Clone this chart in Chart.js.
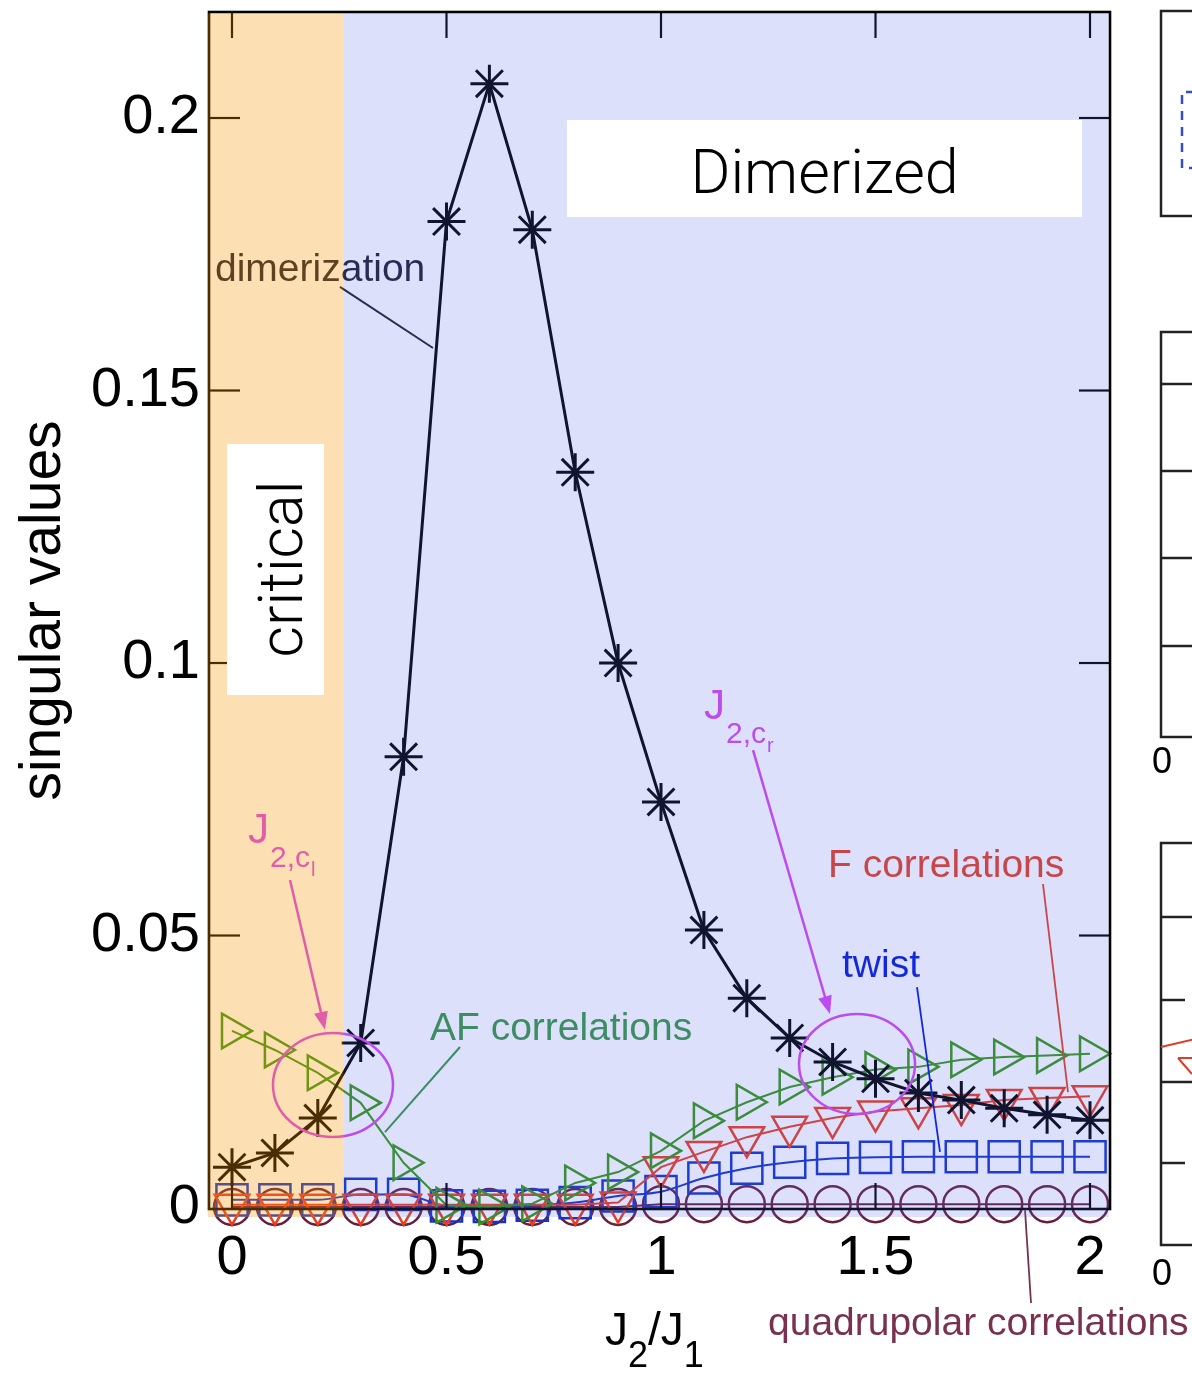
<!DOCTYPE html>
<html><head><meta charset="utf-8">
<script src="https://cdn.jsdelivr.net/npm/chart.js@4.4.0/dist/chart.umd.min.js"></script>
<style>html,body{margin:0;padding:0;background:#fff;}canvas{display:block;}</style>
</head><body>
<canvas id="c" width="1192" height="1373"></canvas>
<script>
// ---------- data ----------
const j2OverJ1 = [0,0.1,0.2,0.3,0.4,0.5,0.6,0.7,0.8,0.9,1.0,1.1,1.2,1.3,1.4,1.5,1.6,1.7,1.8,1.9,2.0];
const dimerization = [0.0075,0.0101,0.0165,0.0303,0.0828,0.181,0.2063,0.1795,0.135,0.100,0.0745,0.051,0.0385,0.0312,0.0268,0.0237,0.0211,0.0198,0.0183,0.0171,0.0161];
const afCorrelations = [0.0325,0.029,0.0248,0.0193,0.0083,0.0005,0.0002,0.0008,0.0046,0.0066,0.0105,0.016,0.0194,0.0222,0.024,0.0254,0.0259,0.0272,0.0277,0.028,0.0283];
const fCorrelations = [0.0006,0.0006,0.0006,0.0006,0.0006,0.0006,0.0006,0.0006,0.0006,0.001,0.0075,0.0103,0.013,0.0149,0.0165,0.0177,0.0183,0.0189,0.0198,0.0202,0.0205];
const twist = [0.0015,0.0015,0.0015,0.0025,0.0025,0.0004,0.0003,0.0005,0.001,0.0022,0.003,0.0055,0.0073,0.0084,0.0091,0.0093,0.0094,0.0094,0.0094,0.0094,0.0094];
const quadrupolar = [0.0002,0.0002,0.0002,0.0002,0.0002,0.0002,0.0002,0.0002,0.0002,0.0002,0.0007,0.0007,0.0007,0.0007,0.0007,0.0007,0.0007,0.0007,0.0007,0.0007,0.0007];
const xTickValues = [0,0.5,1,1.5,2];
const yTickValues = [0,0.05,0.1,0.15,0.2];
const criticalEnd = 0.26;   // boundary of the "critical" region

// ---------- styles ----------
const FONT = "'Liberation Sans', Arial, Helvetica, sans-serif";
const C = {
  black:'#000000', green:'rgb(55,150,20)', red:'rgb(235,60,30)', blue:'rgb(20,50,200)',
  purple:'rgb(105,30,60)', magenta:'rgb(215,70,240)', afText:'rgb(55,150,68)',
  fText:'rgb(230,62,35)', twistText:'rgb(5,25,217)', quadText:'rgb(120,50,80)', dimText:'rgb(30,30,45)'
};
const pts = arr => arr.map((v,i)=>({x:j2OverJ1[i], y:v}));

const annot = {
  id:'annot',
  afterDatasetsDraw(chart){
    const {ctx, chartArea:a, scales:{x, y}} = chart;
    const X = v => x.getPixelForValue(v), Y = v => y.getPixelForValue(v);
    const line = (x1,y1,x2,y2)=>{ctx.beginPath();ctx.moveTo(x1,y1);ctx.lineTo(x2,y2);ctx.stroke();};
    const arrow = (x1,y1,x2,y2,col)=>{
      ctx.strokeStyle=col; ctx.fillStyle=col; ctx.lineWidth=2.5;
      const ang=Math.atan2(y2-y1,x2-x1), L=18, W=7;
      line(x1,y1,x2-Math.cos(ang)*L*0.8,y2-Math.sin(ang)*L*0.8);
      ctx.beginPath(); ctx.moveTo(x2,y2);
      ctx.lineTo(x2-Math.cos(ang)*L+Math.sin(ang)*W, y2-Math.sin(ang)*L-Math.cos(ang)*W);
      ctx.lineTo(x2-Math.cos(ang)*L-Math.sin(ang)*W, y2-Math.sin(ang)*L+Math.cos(ang)*W);
      ctx.closePath(); ctx.fill();
    };
    const text = (s,px,py,size,col,align)=>{
      ctx.font = size+'px '+FONT; ctx.fillStyle=col; ctx.textAlign=align||'left'; ctx.textBaseline='alphabetic';
      ctx.fillText(s,px,py);
    };
    const jLabel = (xv,yv,sub,subsub,col)=>{
      const px=X(xv), py=Y(yv);
      ctx.font='42px '+FONT; const wJ=ctx.measureText('J').width;
      text('J',px,py,42,col);
      ctx.font='30px '+FONT; const wS=ctx.measureText(sub).width;
      text(sub,px+wJ+1,py+24,30,col);
      text(subsub,px+wJ+1+wS+1,py+33,20,col);
    };
    const ellipse = (xv,yv,rxv,ryv,col)=>{
      ctx.strokeStyle=col; ctx.lineWidth=2.5; ctx.beginPath();
      ctx.ellipse(X(xv),Y(yv),Math.abs(X(xv+rxv)-X(xv)),Math.abs(Y(yv+ryv)-Y(yv)),0,0,Math.PI*2); ctx.stroke();
    };
    ctx.save();
    // inward ticks
    ctx.strokeStyle='#000'; ctx.lineWidth=2.2;
    xTickValues.forEach(v=>{const p=X(v); line(p,a.top,p,a.top+26); line(p,a.bottom,p,a.bottom-26);});
    yTickValues.forEach(v=>{ if(v===0) return; const p=Y(v); line(a.left,p,a.left+31,p); line(a.right,p,a.right-31,p);});
    // frame
    ctx.lineWidth=2.6; ctx.strokeRect(a.left,a.top,a.right-a.left,a.bottom-a.top);

    // annotations inside the plot
    text('dimerization', X(-0.0396), Y(0.1701), 39, C.dimText);
    ctx.strokeStyle=C.dimText; ctx.lineWidth=2; line(X(0.2517),Y(0.1690),X(0.4685),Y(0.1578));

    jLabel(0.0373,0.0670,'2,c','l',C.magenta);
    arrow(X(0.1352),Y(0.0602),X(0.2168),Y(0.0327),C.magenta);
    ellipse(0.2354,0.02257,0.1399,0.00954,C.magenta);

    text('AF correlations', X(0.4615), Y(0.03083), 39, C.afText);
    ctx.strokeStyle=C.afText; ctx.lineWidth=2; line(X(0.5315),Y(0.02954),X(0.3566),Y(0.01394));

    jLabel(1.1002,0.0897,'2,c','r',C.magenta);
    arrow(X(1.2145),Y(0.0840),X(1.3939),Y(0.0356),C.magenta);
    ellipse(1.4569,0.02642,0.1352,0.00917,C.magenta);

    text('twist', X(1.4219), Y(0.04239), 39, C.twistText);
    ctx.strokeStyle=C.twistText; ctx.lineWidth=1.8; line(X(1.5967),Y(0.04055),X(1.6503),Y(0.01028));

    text('F correlations', X(1.3893), Y(0.06073), 39, C.fText);
    ctx.strokeStyle=C.fText; ctx.lineWidth=1.8; line(X(1.8904),Y(0.05945),X(1.9487),Y(0.02128));

    ctx.strokeStyle=C.quadText; ctx.lineWidth=1.8; line(X(1.8485),Y(-0.0004),X(1.8625),Y(-0.01743));

    // translucent region overlays
    const top=a.top+1.4, bot=a.bottom+8, xc=X(criticalEnd);
    ctx.fillStyle='rgba(248,148,8,0.3)'; ctx.fillRect(a.left-1.3, top, xc-(a.left-1.3), bot-top);
    ctx.fillStyle='rgba(80,100,230,0.2)'; ctx.fillRect(xc, top, (a.right-1.4)-xc, bot-top);

    // white label boxes
    ctx.fillStyle='#fff';
    let bx1=X(0.7809), bx2=X(1.9814), by1=Y(0.19963), by2=Y(0.18183);
    ctx.fillRect(bx1,by1,bx2-bx1,by2-by1);
    ctx.font='300 61px Roboto, '+FONT; ctx.fillStyle='#000'; ctx.textAlign='center'; ctx.textBaseline='alphabetic';
    ctx.fillText('Dimerized',(bx1+bx2)/2,Y(0.18624));
    bx1=X(-0.01166); bx2=X(0.21445); by1=Y(0.14018); by2=Y(0.09413);
    ctx.fillStyle='#fff'; ctx.fillRect(bx1,by1,bx2-bx1,by2-by1);
    ctx.save(); ctx.translate(X(0.1632),Y(0.11725)); ctx.rotate(-Math.PI/2);
    ctx.font='300 61px Roboto, '+FONT; ctx.fillStyle='#000'; ctx.textAlign='center'; ctx.fillText('critical',0,0);
    ctx.restore();

    // labels outside the plot
    text('quadrupolar correlations', X(1.2494), Y(-0.0233), 39, C.quadText);
    // x-axis title J2/J1
    {
      let px=X(0.8695), py=Y(-0.02514);
      ctx.font='46px '+FONT; const wJ=ctx.measureText('J').width, wSl=ctx.measureText('/').width;
      ctx.font='36px '+FONT; const w2=ctx.measureText('2').width;
      text('J',px,py,46,'#000'); px+=wJ;
      text('2',px,py+22,36,'#000'); px+=w2;
      text('/',px,py,46,'#000'); px+=wSl;
      text('J',px,py,46,'#000'); px+=wJ;
      text('1',px,py+22,36,'#000');
    }
    // slivers of neighbouring panels at the right edge
    ctx.strokeStyle='#222'; ctx.lineWidth=2.5;
    ctx.beginPath(); ctx.moveTo(1200,11); ctx.lineTo(1161,11); ctx.lineTo(1161,216); ctx.lineTo(1200,216); ctx.stroke();
    ctx.beginPath(); ctx.moveTo(1200,332); ctx.lineTo(1161,332); ctx.lineTo(1161,737); ctx.lineTo(1200,737); ctx.stroke();
    [384,471,558,646].forEach(p=>line(1161,p,1200,p));
    ctx.beginPath(); ctx.moveTo(1200,843); ctx.lineTo(1161,843); ctx.lineTo(1161,1245); ctx.lineTo(1200,1245); ctx.stroke();
    [917,1082].forEach(p=>line(1161,p,1200,p));
    [1000,1163].forEach(p=>line(1161,p,1185,p));
    ctx.strokeStyle='rgb(220,60,40)'; ctx.lineWidth=2; line(1161,1047,1200,1038);
    ctx.beginPath(); ctx.moveTo(1178,1058); ctx.lineTo(1200,1058); ctx.moveTo(1178,1058); ctx.lineTo(1192,1074); ctx.stroke();
    ctx.strokeStyle='rgb(50,80,190)'; ctx.lineWidth=2.5; ctx.setLineDash([9,7]);
    ctx.beginPath(); ctx.moveTo(1195,92); ctx.lineTo(1182,92); ctx.lineTo(1182,168); ctx.lineTo(1195,168); ctx.stroke();
    ctx.setLineDash([]);
    text('0',1162,773,36,'#000','center');
    text('0',1162,1285,36,'#000','center');
    ctx.restore();
  }
};

const ds = (label,data,col,style,r,rot,bw,lw,order,interp)=>({
  label, data:pts(data), borderColor:col, borderWidth:lw, pointStyle:style, pointRadius:r, pointRotation:rot,
  pointBorderColor:col, pointBorderWidth:bw, pointBackgroundColor:'rgba(0,0,0,0)', fill:false, tension:0,
  cubicInterpolationMode: interp || 'default', clip:false, order
});

new Chart(document.getElementById('c'), {
  type:'line',
  data:{ datasets:[
    ds('dimerization', dimerization, C.black, 'star', 19, 0, 3, 3, 0),
    ds('AF correlations', afCorrelations, C.green, 'triangle', 20, 90, 2.5, 2, 1),
    ds('F correlations', fCorrelations, C.red, 'triangle', 20, 180, 2.5, 2, 2),
    ds('twist', twist, C.blue, 'rect', 22, 0, 2.5, 2, 3, 'monotone'),
    ds('quadrupolar correlations', quadrupolar, C.purple, 'circle', 18, 0, 2.5, 2, 4)
  ]},
  options:{
    responsive:false, devicePixelRatio:1, animation:false,
    layout:{autoPadding:false, padding:{left:0, top:12, right:82, bottom:0}},
    plugins:{legend:{display:false}, tooltip:{enabled:false}},
    scales:{
      x:{ type:'linear', min:-0.0536, max:2.0466,
        afterBuildTicks: s=>{ s.ticks = xTickValues.map(v=>({value:v})); },
        afterFit: s=>{ s.height = 164; s.paddingLeft = 0; s.paddingRight = 0; },
        grid:{display:false, drawTicks:false}, border:{display:false},
        ticks:{ font:{family:FONT, size:56}, color:'#000', padding:16, maxRotation:0, autoSkip:false,
          callback: v=>String(v) } },
      y:{ type:'linear', min:-0.00018, max:0.21945,
        afterBuildTicks: s=>{ s.ticks = yTickValues.map(v=>({value:v})); },
        afterFit: s=>{ s.width = 209; s.paddingTop = 0; s.paddingBottom = 0; },
        grid:{display:false, drawTicks:false}, border:{display:false},
        ticks:{ font:{family:FONT, size:56}, color:'#000', padding:9, autoSkip:false, callback: v=>String(v) },
        title:{ display:true, text:'singular values', font:{family:FONT, size:57}, color:'#000', padding:{top:10, bottom:0} } }
    }
  },
  plugins:[annot]
});
</script>
</body></html>
